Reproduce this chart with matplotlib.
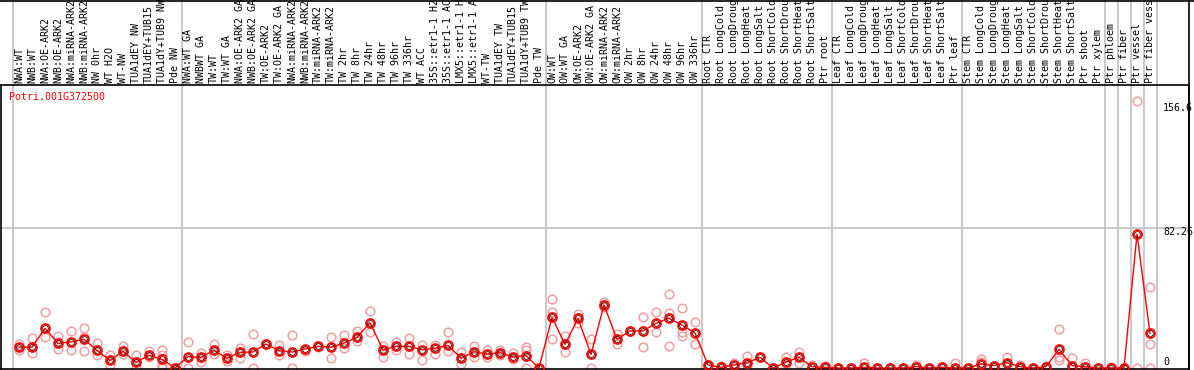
import numpy as np
import matplotlib
matplotlib.use('Agg')
import matplotlib.pyplot as plt
from matplotlib.lines import Line2D
import matplotlib.transforms as mtransforms

gene = 'Potri.001G372500'

labels = ['NWA:WT', 'NWB:WT', 'NWA:OE-ARK2', 'NWB:OE-ARK2', 'NWA:miRNA-ARK2',
          'NWB:miRNA-ARK2', 'NW 0hr', 'WT H2O', 'WT-NW', 'TUA1dEY NW',
          'TUA1dEY+TUB15', 'TUA1dY+TUB9 NW', 'Pde NW', 'NWA:WT GA', 'NWBWT GA',
          'TW:WT', 'TW:WT GA', 'NWA:OE-ARK2 GA', 'NWB:OE-ARK2 GA', 'TW:OE-ARK2',
          'TW:OE-ARK2 GA', 'NWA:miRNA-ARK2', 'NWB:miRNA-ARK2', 'TW:miRNA-ARK2',
          'TW:miRNA-ARK2', 'TW 2hr', 'TW 8hr', 'TW 24hr', 'TW 48hr', 'TW 96hr',
          'TW 336hr', 'WT ACC', '35S::etr1-1 H2O', '35S::etr1-1 ACC',
          'LMX5::etr1-1 H2O', 'LMX5::etr1-1 ACC', 'WT-TW', 'TUA1dEY TW',
          'TUA1dEY+TUB15', 'TUA1dY+TUB9 TW', 'Pde TW', 'OW:WT', 'OW:WT GA',
          'OW:OE-ARK2', 'OW:OE-ARK2 GA', 'OW:miRNA-ARK2', 'OW:miRNA-ARK2',
          'OW 2hr', 'OW 8hr', 'OW 24hr', 'OW 48hr', 'OW 96hr', 'OW 336hr',
          'Root CTR', 'Root LongCold', 'Root LongDrought', 'Root LongHeat',
          'Root LongSalt', 'Root ShortCold', 'Root ShortDrought', 'Root ShortHeat',
          'Root ShortSalt', 'Ptr root', 'Leaf CTR', 'Leaf LongCold',
          'Leaf LongDrought', 'Leaf LongHeat', 'Leaf LongSalt', 'Leaf ShortCold',
          'Leaf ShortDrought', 'Leaf ShortHeat', 'Leaf ShortSalt', 'Ptr leaf',
          'Stem CTR', 'Stem LongCold', 'Stem LongDrought', 'Stem LongHeat',
          'Stem LongSalt', 'Stem ShortCold', 'Stem ShortDrought', 'Stem ShortHeat',
          'Stem ShortSalt', 'Ptr shoot', 'Ptr xylem', 'Ptr phloem', 'Ptr fiber',
          'Ptr vessel', 'Ptr fiber vessel']

means = [12.4, 12.2, 23.3, 14.5, 15.3, 16.9, 10.4, 4.5, 9.8, 3.3,
         7.5, 5.1, 0.0, 6.7, 6.3, 10.4, 5.7, 9.2, 9.4, 14.1,
         10.2, 9.4, 11.2, 12.7, 12.2, 14.7, 18.0, 26.7, 10.6, 12.7,
         12.7, 10.8, 11.6, 13.3, 5.7, 9.6, 8.2, 9.0, 6.5, 7.3,
         0.0, 29.8, 13.9, 29.2, 8.0, 37.1, 16.9, 21.8, 21.8, 26.3,
         29.2, 25.3, 20.6, 1.8, 0.4, 1.8, 3.1, 6.3, 0.0, 3.5,
         6.3, 0.8, 0.4, 0.0, 0.0, 0.4, 0.0, 0.0, 0.0, 0.8,
         0.0, 0.4, 0.0, 0.0, 2.4, 1.4, 3.1, 0.8, 0.0, 0.8,
         11.0, 1.4, 0.8, 0.0, 0.0, 0.0, 78.8, 20.4]

reps = [[14.4, 10.6], [17.5, 9.0], [32.8, 18.4], [18.8, 11.0], [21.8, 10.6],
        [23.3, 18.4, 10.0], [14.9, 7.6], [7.6, 1.8], [12.9, 8.2], [7.6, 0.0],
        [10.0, 6.3], [10.6, 7.6, 1.8, 0.0], [0.0], [15.1, 0.0], [8.6, 3.7],
        [14.1, 8.0], [7.6, 4.3], [11.6, 6.1], [19.8, 0.0], [14.1],
        [13.5, 7.6], [19.4, 0.0], [9.8], [12.2], [18.0, 5.7],
        [19.4, 11.6], [21.9, 16.1], [33.3, 21.2], [12.9, 6.7], [15.5, 10.6],
        [17.5, 8.2], [13.5, 4.7], [13.5, 8.0], [21.0, 10.0], [9.6, 2.2],
        [12.9, 6.3], [10.6, 6.3], [10.6, 7.6], [8.6, 5.1], [12.5, 10.6, 0.0],
        [0.0], [40.4, 32.9, 16.9], [18.8, 9.2], [31.8, 26.3], [16.9, 0.0],
        [39.0, 35.7], [19.8, 14.1], [21.8], [29.8, 12.2], [32.8, 21.0],
        [43.5, 32.2, 12.9], [35.1, 21.4, 18.8], [26.9, 14.1], [1.8], [1.4],
        [3.1], [7.1, 0.4], [6.3], [0.0], [6.3, 2.4],
        [9.2, 2.7], [1.8], [1.4], [0.0], [0.0],
        [2.7], [0.0], [0.0], [0.0], [1.8],
        [0.0], [0.4], [2.7], [0.0], [5.1, 3.7],
        [1.4], [6.3], [1.8], [0.0], [1.4],
        [22.7, 6.7, 4.7], [5.7], [2.7], [0.0], [0.8],
        [0.0], [157.0, 0.0], [47.8, 14.1, 0.0]]

# group boundaries (between columns)
seps = [-0.5, 12.5, 40.5, 52.5, 62.5, 72.5, 83.5, 84.5, 85.5, 86.5, 87.5]
ref_val = 82.26
scale_texts = ['156.6', '82.26', '0']

W, H = 1194, 370
fig = plt.figure(figsize=(W / 100, H / 100), dpi=100)
ax = fig.add_axes([1 / W, 1 / H, 1188 / W, 284 / H])

# 13 px per column, first column at x=19 px
ax.set_xlim((1 - 19) / 13, (1189 - 19) / 13)
ax.set_ylim(-1 / 1.70, 283 / 1.70)
ax.set_xticks([])
ax.set_yticks([])
for s in ax.spines.values():
    s.set_linewidth(1.2)
    s.set_color('black')

grey = '#c0c0c0'
for b in seps:
    ax.axvline(b, 0, 1 + 85 / 284, color=grey, lw=1.2, clip_on=False, zorder=0)
ax.axhline(ref_val, color=grey, lw=1.2, zorder=0)

x = np.arange(len(labels))
rx = [i for i, r in enumerate(reps) for _ in r]
ry = [v for r in reps for v in r]
ax.plot(rx, ry, 'o', ms=6.2, mfc='none', mec='#f0a0a0', mew=1.1, zorder=2)
ax.plot(x, means, '-', color='red', lw=1.0, zorder=3)
ax.plot(x, means, 'o', ms=6.4, mfc='none', mec='red', mew=1.3, zorder=4)
ax.plot(x, means, 'o', ms=4.2, mfc='none', mec='#400000', mew=0.6, zorder=5)

mono = 'DejaVu Sans Mono'
trans = mtransforms.blended_transform_factory(ax.transData, ax.transAxes)
for i, lab in enumerate(labels):
    ax.text(i, 1 + 2 / 284, lab, transform=trans, rotation=90, ha='center',
            va='bottom', family=mono, fontsize=7.2, clip_on=False)

ax.text(-0.8, 1 - 12 / 284, gene, transform=trans, color='red', family=mono,
        fontsize=7.2, va='center', ha='left')

# scale labels on the right, inside the frame
for yy, txt in zip([152.9, 80.0, 3.5], scale_texts):
    ax.text(88.0, yy, txt, color='black', family=mono, fontsize=7.2,
            va='center', ha='left')

# outer frame over the label area
fig.add_artist(Line2D([0, 1], [1 - 0.5 / H, 1 - 0.5 / H], color='black', lw=1.2))
fig.add_artist(Line2D([1189 / W, 1189 / W], [0, 1], color='black', lw=1.2))

plt.savefig('out.png', dpi=100)
